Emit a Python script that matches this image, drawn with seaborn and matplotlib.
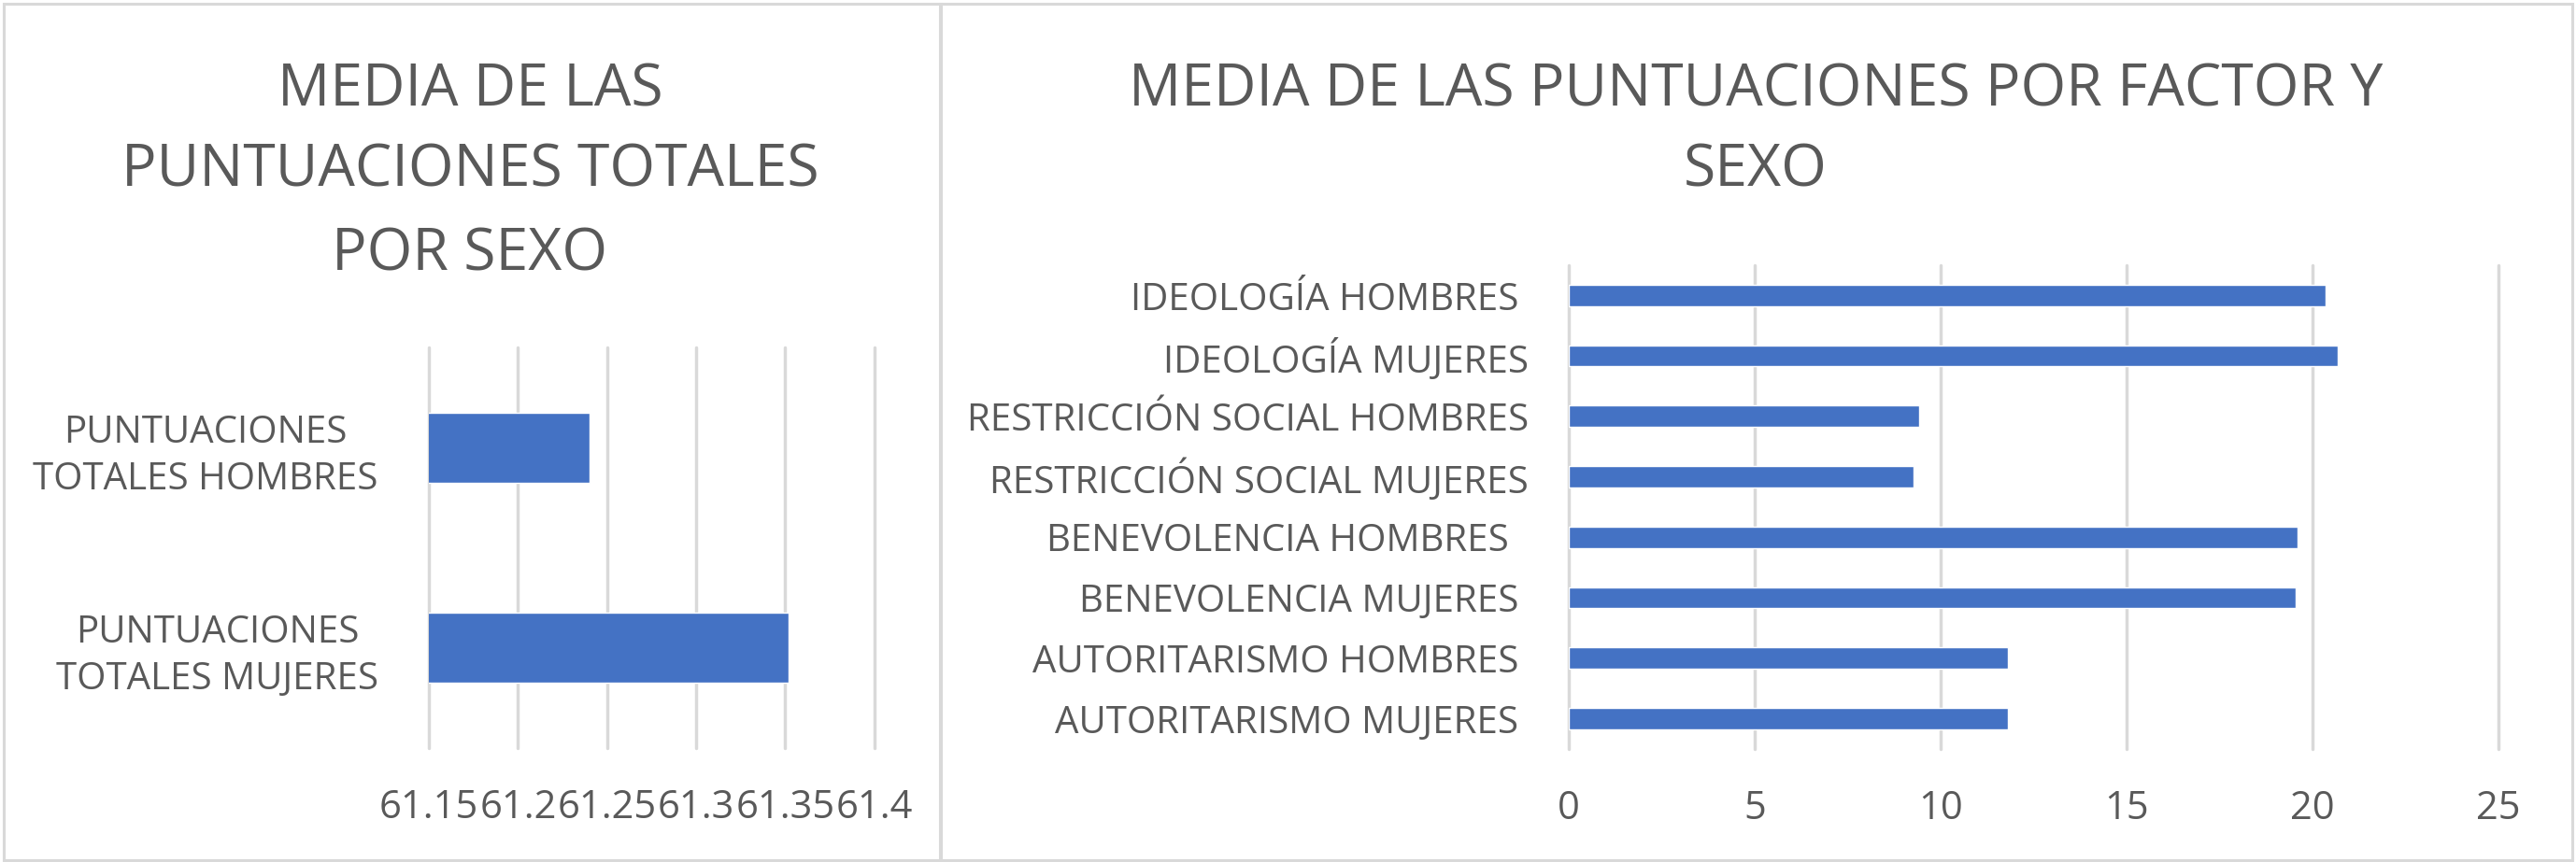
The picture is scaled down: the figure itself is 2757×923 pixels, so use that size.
import matplotlib
matplotlib.use("Agg")
import matplotlib.pyplot as plt
from matplotlib.patches import Rectangle
import pandas as pd
import seaborn as sns

# data
total_labels = ["PUNTUACIONES\nTOTALES HOMBRES", "PUNTUACIONES\nTOTALES MUJERES"]
total_values = [61.24, 61.352]
total_ticks = [61.15, 61.2, 61.25, 61.3, 61.35, 61.4]

factor_labels = [
    "IDEOLOGÍA HOMBRES ",
    "IDEOLOGÍA MUJERES",
    "RESTRICCIÓN SOCIAL HOMBRES",
    "RESTRICCIÓN SOCIAL MUJERES",
    "BENEVOLENCIA HOMBRES  ",
    "BENEVOLENCIA MUJERES ",
    "AUTORITARISMO HOMBRES ",
    "AUTORITARISMO MUJERES ",
]
factor_values = [20.36, 20.69, 9.43, 9.27, 19.6, 19.55, 11.8, 11.8]
factor_ticks = [0, 5, 10, 15, 20, 25]

left_title = ["MEDIA DE LAS", "PUNTUACIONES TOTALES", "POR SEXO"]
right_title = ["MEDIA DE LAS PUNTUACIONES POR FACTOR Y", "SEXO"]

BAR = "#4472C4"
GRID = "#D9D9D9"
TEXT = "#595959"
W, H = 2757, 923

sns.set_theme(style="white")
plt.rcParams["font.family"] = ["Open Sans", "DejaVu Sans"]

fig = plt.figure(figsize=(W / 100, H / 100), dpi=100)


def px_axes(x0, y0, x1, y1):
    # pixel box (top-left origin) -> figure fraction
    return [x0 / W, 1 - y1 / H, (x1 - x0) / W, (y1 - y0) / H]


def style_axes(ax, ticks, ypad):
    ax.set_xticks(ticks)
    ax.set_xticklabels([f"{t:g}" for t in ticks])
    ax.set_xlabel("")
    ax.set_ylabel("")
    ax.grid(axis="x", color=GRID, linewidth=2.5)
    ax.grid(axis="y", visible=False)
    ax.set_axisbelow(True)
    for line in ax.xaxis.get_gridlines():
        line.set_clip_on(False)
    sns.despine(ax=ax, left=True, bottom=True)
    ax.tick_params(axis="x", length=0, pad=31, labelsize=30, labelcolor=TEXT)
    ax.tick_params(axis="y", length=0, pad=ypad, labelsize=29, labelcolor=TEXT)


# left chart
ax1 = fig.add_axes(px_axes(459, 372, 935.6, 800.6))
df_total = pd.DataFrame({"label": total_labels, "value": total_values})
sns.barplot(data=df_total, x="value", y="label", orient="h", color=BAR,
            saturation=1, width=0.35, errorbar=None, ax=ax1)
ax1.set_xlim(total_ticks[0], total_ticks[-1])
style_axes(ax1, total_ticks, 39)
for t in ax1.get_yticklabels():
    t.set_multialignment("center")
    t.set_linespacing(1.3)

# right chart
ax2 = fig.add_axes(px_axes(1679, 284, 2674, 801.7))
df_factor = pd.DataFrame({"label": factor_labels, "value": factor_values})
sns.barplot(data=df_factor, x="value", y="label", orient="h", color=BAR,
            saturation=1, width=0.35, errorbar=None, ax=ax2)
ax2.set_xlim(factor_ticks[0], factor_ticks[-1])
style_axes(ax2, factor_ticks, 31)

# titles, one text per line
for line, base in zip(left_title, [113, 200, 290]):
    fig.text(503 / W, 1 - base / H, line, ha="center", va="baseline",
             fontsize=45, color=TEXT)
for line, base in zip(right_title, [113, 200]):
    fig.text(1879 / W, 1 - base / H, line, ha="center", va="baseline",
             fontsize=45, color=TEXT)

# chart area borders
for x0, x1 in [(4, 1006), (1007, 2753)]:
    fig.add_artist(Rectangle((x0 / W, 2 / H), (x1 - x0) / W, 917 / H,
                             transform=fig.transFigure, fill=False,
                             edgecolor=GRID, linewidth=2.2))

fig.savefig("out.png", dpi=100, facecolor="white")
